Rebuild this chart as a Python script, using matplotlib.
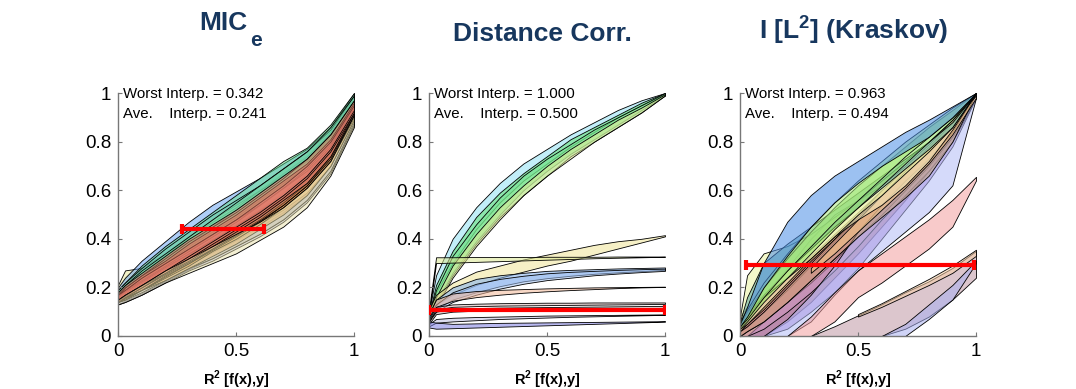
import numpy as np
import matplotlib.pyplot as plt
from matplotlib.colors import to_rgba

plt.rcParams["font.family"] = ["Liberation Sans", "DejaVu Sans"]
plt.rcParams["mathtext.fontset"] = "custom"
plt.rcParams["mathtext.rm"] = "Liberation Sans"
plt.rcParams["mathtext.bf"] = "Liberation Sans:bold"

nan = np.nan

r2 = [0.0, 0.03, 0.1, 0.2, 0.3, 0.4, 0.5, 0.6, 0.7, 0.8, 0.9, 1.0]

# ---- MIC_e bands (lower / upper) ----
mic_lo = [
    [0.13, 0.145, 0.175, 0.225, 0.275, 0.32, 0.37, 0.42, 0.48, 0.56, 0.68, 0.87],
    [0.13, 0.14, 0.17, 0.22, 0.27, 0.31, 0.36, 0.41, 0.47, 0.55, 0.67, 0.87],
    [0.14, 0.15, 0.18, 0.23, 0.28, 0.32, 0.37, 0.42, 0.48, 0.56, 0.68, 0.88],
    [0.16, 0.20, 0.24, 0.30, 0.36, 0.42, 0.48, 0.55, 0.62, 0.70, 0.80, 0.95],
    [0.17, 0.20, 0.25, 0.33, 0.41, 0.48, 0.54, 0.60, 0.66, 0.72, 0.82, 0.97],
    [0.16, 0.19, 0.24, 0.31, 0.38, 0.45, 0.52, 0.59, 0.66, 0.72, 0.82, 0.97],
    [0.15, 0.18, 0.23, 0.30, 0.37, 0.43, 0.49, 0.56, 0.63, 0.70, 0.80, 0.96],
    [0.16, 0.18, 0.22, 0.29, 0.35, 0.42, 0.48, 0.55, 0.62, 0.70, 0.80, 0.96],
    [0.15, 0.17, 0.21, 0.27, 0.33, 0.39, 0.45, 0.52, 0.59, 0.67, 0.78, 0.94],
    [0.14, 0.15, 0.19, 0.23, 0.28, 0.33, 0.38, 0.44, 0.50, 0.58, 0.70, 0.89],
    [0.14, 0.16, 0.19, 0.24, 0.29, 0.35, 0.40, 0.46, 0.53, 0.61, 0.72, 0.90],
    [0.14, 0.155, 0.19, 0.245, 0.30, 0.355, 0.41, 0.47, 0.54, 0.62, 0.74, 0.91],
    [0.14, 0.16, 0.19, 0.25, 0.30, 0.36, 0.42, 0.48, 0.55, 0.63, 0.74, 0.91],
    [0.145, 0.165, 0.20, 0.255, 0.305, 0.36, 0.415, 0.475, 0.54, 0.62, 0.73, 0.91],
    [0.14, 0.16, 0.20, 0.26, 0.31, 0.37, 0.43, 0.49, 0.56, 0.63, 0.74, 0.92],
    [0.15, 0.17, 0.21, 0.26, 0.32, 0.38, 0.44, 0.50, 0.57, 0.65, 0.76, 0.92],
    [0.15, 0.17, 0.21, 0.27, 0.33, 0.39, 0.45, 0.51, 0.58, 0.66, 0.77, 0.93],
    [0.13, 0.14, 0.17, 0.22, 0.26, 0.30, 0.34, 0.395, 0.45, 0.53, 0.66, 0.86],
]
mic_hi = [
    [0.145, 0.16, 0.195, 0.245, 0.295, 0.345, 0.395, 0.45, 0.51, 0.58, 0.70, 0.89],
    [0.15, 0.16, 0.20, 0.25, 0.30, 0.35, 0.40, 0.46, 0.52, 0.59, 0.70, 0.89],
    [0.16, 0.18, 0.22, 0.28, 0.33, 0.38, 0.44, 0.50, 0.56, 0.63, 0.74, 0.92],
    [0.21, 0.27, 0.28, 0.34, 0.41, 0.47, 0.53, 0.60, 0.67, 0.74, 0.84, 0.98],
    [0.20, 0.24, 0.31, 0.39, 0.47, 0.54, 0.595, 0.65, 0.71, 0.77, 0.86, 1.0],
    [0.19, 0.22, 0.29, 0.37, 0.44, 0.51, 0.58, 0.65, 0.72, 0.775, 0.87, 1.0],
    [0.19, 0.22, 0.28, 0.36, 0.43, 0.50, 0.56, 0.62, 0.69, 0.76, 0.85, 0.99],
    [0.18, 0.21, 0.27, 0.34, 0.41, 0.48, 0.55, 0.62, 0.69, 0.76, 0.86, 0.99],
    [0.17, 0.20, 0.25, 0.32, 0.39, 0.45, 0.51, 0.58, 0.65, 0.73, 0.83, 0.97],
    [0.16, 0.18, 0.23, 0.28, 0.34, 0.40, 0.46, 0.52, 0.58, 0.66, 0.77, 0.94],
    [0.17, 0.19, 0.24, 0.30, 0.36, 0.42, 0.48, 0.54, 0.61, 0.69, 0.79, 0.95],
    [0.16, 0.18, 0.22, 0.28, 0.34, 0.39, 0.45, 0.51, 0.58, 0.66, 0.77, 0.94],
    [0.16, 0.19, 0.23, 0.29, 0.35, 0.41, 0.47, 0.54, 0.61, 0.68, 0.78, 0.95],
    [0.165, 0.185, 0.225, 0.285, 0.34, 0.395, 0.455, 0.515, 0.58, 0.66, 0.77, 0.94],
    [0.17, 0.20, 0.25, 0.31, 0.38, 0.44, 0.50, 0.57, 0.64, 0.71, 0.81, 0.96],
    [0.17, 0.19, 0.24, 0.30, 0.36, 0.42, 0.48, 0.55, 0.62, 0.70, 0.80, 0.95],
    [0.18, 0.21, 0.26, 0.33, 0.40, 0.46, 0.52, 0.59, 0.66, 0.73, 0.83, 0.97],
    [0.15, 0.17, 0.21, 0.27, 0.32, 0.37, 0.42, 0.47, 0.53, 0.61, 0.72, 0.91],
]
mic_colors = ["#9cb4f0", "#a8a8ec", "#c8c0b8", "#e6e490", "#5f9ef0", "#5fdc88",
              "#70c8b0", "#70d8a0", "#98d488", "#f0a048", "#e88a38", "#e08040",
              "#e098a8", "#c07850", "#d86a58", "#e88878", "#e07868", "#e8e0a8"]

# ---- Distance correlation bands ----
dc_lo = [
    [0.08, 0.18, 0.30, 0.44, 0.55, 0.64, 0.71, 0.78, 0.84, 0.90, 0.95, 0.995],
    [0.07, 0.14, 0.26, 0.39, 0.50, 0.60, 0.68, 0.75, 0.81, 0.87, 0.93, 0.99],
    [0.07, 0.13, 0.25, 0.38, 0.49, 0.58, 0.66, 0.74, 0.80, 0.86, 0.92, 0.99],
    [0.06, 0.12, 0.24, 0.37, 0.48, 0.58, 0.66, 0.73, 0.80, 0.86, 0.92, 0.99],
    [0.10, 0.13, 0.17, 0.21, 0.24, 0.265, 0.29, 0.31, 0.335, 0.36, 0.385, 0.41],
    [0.09, 0.30, 0.302, 0.305, 0.308, 0.311, 0.314, 0.317, 0.32, 0.322, 0.324, 0.326],
    [0.07, 0.11, 0.15, 0.18, 0.205, 0.225, 0.238, 0.248, 0.256, 0.262, 0.267, 0.272],
    [0.07, 0.10, 0.14, 0.17, 0.195, 0.215, 0.23, 0.24, 0.25, 0.257, 0.263, 0.268],
    [0.08, 0.12, 0.145, 0.16, 0.17, 0.178, 0.184, 0.189, 0.193, 0.197, 0.20, 0.202],
    [0.06, 0.11, 0.12, 0.123, 0.125, 0.126, 0.127, 0.128, 0.129, 0.13, 0.131, 0.132],
    [0.05, 0.09, 0.10, 0.104, 0.106, 0.108, 0.11, 0.111, 0.112, 0.113, 0.114, 0.115],
    [0.04, 0.055, 0.06, 0.065, 0.07, 0.073, 0.076, 0.079, 0.081, 0.083, 0.085, 0.087],
    [0.035, 0.03, 0.032, 0.035, 0.038, 0.041, 0.044, 0.047, 0.05, 0.053, 0.056, 0.059],
]
dc_hi = [
    [0.10, 0.25, 0.40, 0.53, 0.63, 0.71, 0.77, 0.83, 0.88, 0.93, 0.97, 1.0],
    [0.09, 0.21, 0.35, 0.49, 0.59, 0.67, 0.74, 0.81, 0.86, 0.91, 0.96, 1.0],
    [0.09, 0.19, 0.33, 0.46, 0.57, 0.66, 0.73, 0.79, 0.85, 0.90, 0.95, 1.0],
    [0.08, 0.16, 0.29, 0.42, 0.53, 0.62, 0.70, 0.77, 0.83, 0.89, 0.94, 0.995],
    [0.11, 0.17, 0.22, 0.265, 0.29, 0.315, 0.335, 0.355, 0.375, 0.39, 0.40, 0.415],
    [0.11, 0.324, 0.324, 0.325, 0.325, 0.325, 0.326, 0.326, 0.326, 0.327, 0.327, 0.327],
    [0.09, 0.15, 0.20, 0.235, 0.25, 0.26, 0.268, 0.272, 0.275, 0.278, 0.28, 0.282],
    [0.08, 0.13, 0.18, 0.215, 0.235, 0.248, 0.258, 0.264, 0.268, 0.272, 0.275, 0.277],
    [0.09, 0.15, 0.175, 0.185, 0.19, 0.193, 0.196, 0.198, 0.20, 0.201, 0.202, 0.203],
    [0.07, 0.12, 0.13, 0.133, 0.135, 0.136, 0.137, 0.137, 0.138, 0.138, 0.138, 0.138],
    [0.06, 0.10, 0.112, 0.115, 0.117, 0.118, 0.119, 0.12, 0.121, 0.122, 0.123, 0.124],
    [0.05, 0.07, 0.075, 0.078, 0.08, 0.082, 0.084, 0.085, 0.086, 0.087, 0.088, 0.089],
    [0.06, 0.055, 0.05, 0.052, 0.054, 0.055, 0.056, 0.057, 0.058, 0.059, 0.06, 0.061],
]
dc_colors = ["#90e0f4", "#60e070", "#78e490", "#e4ec98", "#f0e498", "#dce890",
             "#80b0f0", "#a0c0f0", "#f4b898", "#d8b8b8", "#c8b0b0", "#c0c0e0",
             "#8080e4"]

# ---- Kraskov mutual information bands ----
mi_lo = [
    [0.0, 0.0, 0.0, 0.06, 0.14, 0.24, 0.34, 0.45, 0.56, 0.68, 0.82, 1.0],
    [nan, 0.0, 0.0, 0.03, 0.10, 0.18, 0.28, 0.40, 0.52, 0.64, 0.78, 0.98],
    [0.0, 0.0, 0.03, 0.10, 0.18, 0.27, 0.37, 0.48, 0.58, 0.68, 0.80, 0.98],
    [0.0, 0.02, 0.06, 0.14, 0.23, 0.32, 0.41, 0.50, 0.60, 0.70, 0.82, 0.98],
    [nan, nan, 0.0, 0.0, 0.06, 0.17, 0.27, 0.35, 0.43, 0.51, 0.62, 0.98],
    [nan, nan, nan, 0.0, 0.0, 0.06, 0.16, 0.22, 0.29, 0.36, 0.45, 0.64],
    [0.0, 0.02, 0.06, 0.14, 0.23, 0.32, 0.41, 0.49, 0.57, 0.66, 0.80, 1.0],
    [nan, nan, nan, nan, 0.26, 0.34, 0.43, 0.52, 0.61, 0.71, 0.83, 0.98],
    [0.03, 0.05, 0.12, 0.22, 0.32, 0.41, 0.48, 0.54, 0.62, 0.72, 0.85, 1.0],
    [0.05, 0.10, 0.16, 0.24, 0.32, 0.41, 0.50, 0.58, 0.67, 0.76, 0.86, 1.0],
    [0.04, 0.08, 0.17, 0.27, 0.36, 0.45, 0.53, 0.61, 0.69, 0.77, 0.86, 1.0],
    [0.03, 0.06, 0.14, 0.24, 0.34, 0.44, 0.53, 0.62, 0.71, 0.80, 0.89, 1.0],
    [0.04, 0.07, 0.16, 0.27, 0.37, 0.47, 0.56, 0.65, 0.74, 0.82, 0.90, 1.0],
    [0.04, 0.08, 0.20, 0.33, 0.45, 0.55, 0.63, 0.70, 0.76, 0.82, 0.90, 1.0],
    [nan, nan, nan, nan, 0.0, 0.0, 0.0, 0.0, 0.03, 0.08, 0.15, 0.24],
    [nan, nan, nan, nan, nan, nan, 0.08, 0.12, 0.165, 0.21, 0.26, 0.33],
    [nan, nan, nan, nan, nan, nan, nan, 0.0, 0.0, 0.07, 0.15, 0.30],
]
mi_hi = [
    [0.08, 0.12, 0.17, 0.24, 0.33, 0.42, 0.51, 0.60, 0.69, 0.78, 0.88, 1.0],
    [nan, 0.0, 0.06, 0.14, 0.22, 0.31, 0.41, 0.52, 0.62, 0.72, 0.84, 0.99],
    [0.02, 0.04, 0.10, 0.19, 0.29, 0.39, 0.49, 0.58, 0.67, 0.76, 0.86, 0.99],
    [0.02, 0.05, 0.11, 0.21, 0.31, 0.40, 0.49, 0.58, 0.67, 0.76, 0.87, 0.99],
    [nan, nan, 0.0, 0.07, 0.17, 0.29, 0.43, 0.54, 0.64, 0.73, 0.84, 1.0],
    [nan, nan, nan, 0.0, 0.08, 0.18, 0.27, 0.34, 0.41, 0.48, 0.56, 0.655],
    [0.02, 0.04, 0.10, 0.20, 0.30, 0.40, 0.50, 0.60, 0.69, 0.77, 0.88, 1.0],
    [nan, nan, nan, nan, 0.28, 0.38, 0.48, 0.58, 0.68, 0.78, 0.88, 0.99],
    [0.04, 0.08, 0.16, 0.28, 0.40, 0.50, 0.56, 0.62, 0.70, 0.79, 0.89, 1.0],
    [0.08, 0.25, 0.34, 0.37, 0.42, 0.49, 0.56, 0.64, 0.72, 0.80, 0.89, 1.0],
    [0.06, 0.16, 0.30, 0.38, 0.45, 0.52, 0.59, 0.66, 0.73, 0.80, 0.88, 1.0],
    [0.05, 0.10, 0.20, 0.32, 0.43, 0.53, 0.62, 0.70, 0.78, 0.86, 0.93, 1.0],
    [0.06, 0.11, 0.22, 0.34, 0.45, 0.55, 0.64, 0.72, 0.80, 0.87, 0.94, 1.0],
    [0.05, 0.12, 0.30, 0.47, 0.58, 0.66, 0.72, 0.78, 0.84, 0.89, 0.945, 1.0],
    [nan, nan, nan, nan, 0.0, 0.04, 0.085, 0.13, 0.18, 0.225, 0.28, 0.35],
    [nan, nan, nan, nan, nan, nan, 0.09, 0.135, 0.185, 0.235, 0.29, 0.355],
    [nan, nan, nan, nan, nan, nan, nan, 0.0, 0.05, 0.13, 0.21, 0.31],
]
mi_colors = ["#c06a20", "#a070d0", "#d098c0", "#dc8098", "#b4bcf6", "#f4a0a0",
             "#c4a07c", "#f6c888", "#f2ecc0", "#eaf4a0", "#5aa8a0", "#8ce060",
             "#acec80", "#4c8ee6", "#c098a4", "#f8d0a8", "#a8b0f0"]

panel_titles = ["Distance Corr.", "I [L$^{\\mathbf{2}}$] (Kraskov)"]
worst_interp = [0.342, 1.000, 0.963]
ave_interp = [0.241, 0.500, 0.494]
# red interval: (y level, left end, right end)
red_y = [0.44, 0.108, 0.292]
red_left = [0.27, 0.0, 0.025]
red_right = [0.62, 1.0, 0.99]

y_ticks = [0, 0.2, 0.4, 0.6, 0.8, 1]
y_ticklabels = ["0", "0.2", "0.4", "0.6", "0.8", "1"]
x_ticks = [0, 0.5, 1]
x_ticklabels = ["0", "0.5", "1"]

title_color = "#17375e"

fig = plt.figure(figsize=(10.76, 3.89), dpi=100)
lefts = [118 / 1076, 429 / 1076, 740 / 1076]
panels = [(mic_lo, mic_hi, mic_colors, 0.5),
          (dc_lo, dc_hi, dc_colors, 0.55),
          (mi_lo, mi_hi, mi_colors, 0.55)]

for i, (los, his, cols, alpha) in enumerate(panels):
    ax = fig.add_axes([lefts[i], 53 / 389, 236 / 1076, 243 / 389])
    for lo, hi, c in zip(los, his, cols):
        ax.fill_between(r2, lo, hi, facecolor=to_rgba(c, alpha),
                        edgecolor="black", linewidth=0.6)
    xc = (red_left[i] + red_right[i]) / 2
    ax.errorbar([xc], [red_y[i]], xerr=[(red_right[i] - red_left[i]) / 2],
                color="red", linewidth=3, capsize=3.5, capthick=3, zorder=5)

    ax.set_xlim(0, 1)
    ax.set_ylim(0, 1)
    for side in ["top", "right"]:
        ax.spines[side].set_visible(False)
    for side in ["left", "bottom"]:
        ax.spines[side].set_color("#777777")
        ax.spines[side].set_linewidth(1.0)
    ax.set_xticks(x_ticks)
    ax.set_xticklabels(x_ticklabels)
    ax.set_yticks(y_ticks)
    ax.set_yticklabels(y_ticklabels)
    ax.tick_params(direction="in", length=3, color="#777777", labelsize=13.5, pad=5)
    ax.set_xlabel("R$^{\\mathbf{2}}$ [f(x),y]", fontsize=10.5, fontweight="bold",
                  labelpad=6)

    ax.text(0.023, 0.997, "Worst Interp. = %.3f" % worst_interp[i],
            transform=ax.transAxes, fontsize=10.8, va="center", ha="left")
    ax.text(0.023, 0.914, "Ave.    Interp. = %.3f" % ave_interp[i],
            transform=ax.transAxes, fontsize=10.8, va="center", ha="left")

fig.text(223 / 1076, 1 - 23 / 389, "MIC", fontsize=19, fontweight="bold",
         color=title_color, ha="center", va="center")
fig.text(256 / 1076, 1 - 41 / 389, "e", fontsize=15, fontweight="bold",
         color=title_color, ha="center", va="center")
fig.text(542 / 1076, 1 - 34 / 389, panel_titles[0], fontsize=19, fontweight="bold",
         color=title_color, ha="center", va="center")
fig.text(854 / 1076, 1 - 30 / 389, panel_titles[1], fontsize=19, fontweight="bold",
         color=title_color, ha="center", va="center")

fig.savefig("out.png", dpi=100)
